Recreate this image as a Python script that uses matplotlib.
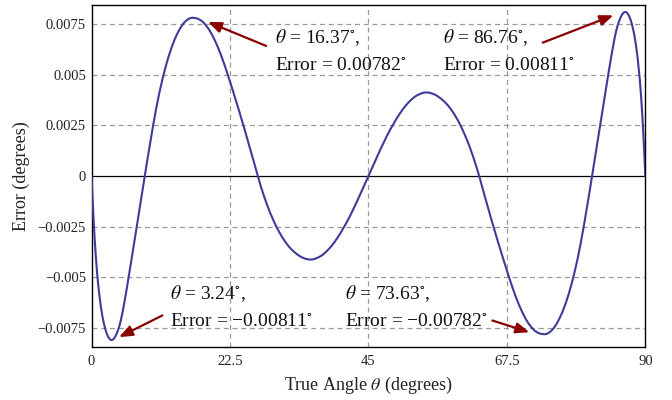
import matplotlib
matplotlib.use("Agg")
import matplotlib.pyplot as plt

plt.rcParams['font.family'] = ['Liberation Serif', 'DejaVu Serif']
plt.rcParams['mathtext.fontset'] = 'stix'

# True angle (degrees) and error (degrees)
theta = [0.0, 0.1, 0.2, 0.3, 0.4, 0.5, 0.6, 0.7, 0.8, 0.9, 1.0, 1.25, 1.5, 1.75, 2.0,
         2.25, 2.5, 2.75, 3.0, 3.24, 3.5, 3.75, 4.0, 4.25, 4.5, 4.75, 5.0, 5.25, 5.5,
         5.75, 6.0, 6.25, 6.5, 6.75, 7.0, 7.25, 7.5, 7.75, 8.0, 8.25, 8.5, 8.65, 9.0,
         9.5, 10.0, 10.5, 11.0, 11.5, 12.0, 12.5, 13.0, 13.5, 14.0, 14.5, 15.0, 15.5,
         16.0, 16.37, 17.0, 17.5, 18.0, 18.5, 19.0, 19.5, 20.0, 20.5, 21.0, 21.5, 22.0,
         22.5, 23.0, 23.5, 24.0, 24.5, 25.0, 25.5, 26.0, 26.5, 27.0, 27.5, 28.0, 28.5,
         29.0, 29.5, 30.0, 30.5, 31.0, 31.5, 32.0, 32.5, 33.0, 33.5, 34.0, 34.5, 35.0,
         35.5, 36.0, 36.5, 37.0, 37.5, 38.0, 38.5, 39.0, 39.5, 40.0, 40.5, 41.0, 41.5,
         42.0, 42.5, 43.0, 43.5, 44.0, 44.5, 45.0,
         45.5, 46.0, 46.5, 47.0, 47.5, 48.0, 48.5, 49.0, 49.5, 50.0, 50.5, 51.0, 51.5,
         52.0, 52.5, 53.0, 53.5, 54.0, 54.5, 55.0, 55.5, 56.0, 56.5, 57.0, 57.5, 58.0,
         58.5, 59.0, 59.5, 60.0, 60.5, 61.0, 61.5, 62.0, 62.5, 63.0, 63.5, 64.0, 64.5,
         65.0, 65.5, 66.0, 66.5, 67.0, 67.5, 68.0, 68.5, 69.0, 69.5, 70.0, 70.5, 71.0,
         71.5, 72.0, 72.5, 73.0, 73.63, 74.0, 74.5, 75.0, 75.5, 76.0, 76.5, 77.0, 77.5,
         78.0, 78.5, 79.0, 79.5, 80.0, 80.5, 81.0, 81.35, 81.5, 81.75, 82.0, 82.25, 82.5,
         82.75, 83.0, 83.25, 83.5, 83.75, 84.0, 84.25, 84.5, 84.75, 85.0, 85.25, 85.5,
         85.75, 86.0, 86.25, 86.5, 86.76, 87.0, 87.25, 87.5, 87.75, 88.0, 88.25, 88.5,
         88.75, 89.0, 89.1, 89.2, 89.3, 89.4, 89.5, 89.6, 89.7, 89.8, 89.9, 90.0]
error = [0.0, -0.00068, -0.00133, -0.00195, -0.00252, -0.00305, -0.00354, -0.00399,
         -0.00440, -0.00477, -0.00511, -0.00583, -0.00642, -0.00690, -0.00728, -0.00758,
         -0.00781, -0.00797, -0.00807, -0.00811, -0.00808, -0.00799, -0.00785, -0.00766,
         -0.00744, -0.00715, -0.00680, -0.00640, -0.00597, -0.00552, -0.00506, -0.00459,
         -0.00412, -0.00364, -0.00316, -0.00268, -0.00220, -0.00172, -0.00124, -0.00076,
         -0.00028, 0.0, 0.00066, 0.00158, 0.00248, 0.00332, 0.00408, 0.00475, 0.00535,
         0.00588, 0.00634, 0.00674, 0.00707, 0.00735, 0.00756, 0.00771, 0.00780, 0.00782,
         0.00780, 0.00774, 0.00764, 0.00748, 0.00728, 0.00703, 0.00673, 0.00639, 0.00601,
         0.00559, 0.00514, 0.00467, 0.00419, 0.00370, 0.00320, 0.00269, 0.00217, 0.00164,
         0.00110, 0.00056, 0.0, -0.00050, -0.00097, -0.00140, -0.00180, -0.00215,
         -0.00248, -0.00277, -0.00303, -0.00326, -0.00346, -0.00363, -0.00377, -0.00389,
         -0.00399, -0.00406, -0.00411, -0.00413, -0.00412, -0.00407, -0.00400, -0.00391,
         -0.00378, -0.00363, -0.00346, -0.00326, -0.00304, -0.00280, -0.00254, -0.00227,
         -0.00198, -0.00167, -0.00135, -0.00102, -0.00068, -0.00034, 0.0,
         0.00034, 0.00068, 0.00102, 0.00135, 0.00167, 0.00198, 0.00227, 0.00254, 0.00280,
         0.00304, 0.00326, 0.00346, 0.00363, 0.00378, 0.00391, 0.00400, 0.00407, 0.00412,
         0.00413, 0.00411, 0.00406, 0.00399, 0.00389, 0.00377, 0.00363, 0.00346, 0.00326,
         0.00303, 0.00277, 0.00248, 0.00215, 0.00180, 0.00140, 0.00097, 0.00050, 0.0,
         -0.00056, -0.00110, -0.00164, -0.00217, -0.00269, -0.00320, -0.00370, -0.00419,
         -0.00467, -0.00514, -0.00559, -0.00601, -0.00639, -0.00673, -0.00703, -0.00728,
         -0.00748, -0.00764, -0.00774, -0.00780, -0.00782, -0.00780, -0.00771, -0.00756,
         -0.00735, -0.00707, -0.00674, -0.00634, -0.00588, -0.00535, -0.00475, -0.00408,
         -0.00332, -0.00248, -0.00158, -0.00066, 0.0, 0.00028, 0.00076, 0.00124, 0.00172,
         0.00220, 0.00268, 0.00316, 0.00364, 0.00412, 0.00459, 0.00506, 0.00552, 0.00597,
         0.00640, 0.00680, 0.00715, 0.00744, 0.00766, 0.00785, 0.00799, 0.00808, 0.00811,
         0.00807, 0.00797, 0.00781, 0.00758, 0.00728, 0.00690, 0.00642, 0.00583, 0.00511,
         0.00477, 0.00440, 0.00399, 0.00354, 0.00305, 0.00252, 0.00195, 0.00133, 0.00068,
         0.0]

xticks = [0, 22.5, 45, 67.5, 90]
xticklabels = ['0', '22.5', '45', '67.5', '90']
yticks = [-0.0075, -0.005, -0.0025, 0, 0.0025, 0.005, 0.0075]
yticklabels = ['\u22120.0075', '\u22120.005', '\u22120.0025', '0', '0.0025', '0.005', '0.0075']

ann_line1 = [r'$\theta$ = 16.37$^{\circ}$,', r'$\theta$ = 86.76$^{\circ}$,',
             r'$\theta$ = 3.24$^{\circ}$,', r'$\theta$ = 73.63$^{\circ}$,']
ann_line2 = [r'Error = 0.00782$^{\circ}$', r'Error = 0.00811$^{\circ}$',
             'Error = \u22120.00811$^{\\circ}$', 'Error = \u22120.00782$^{\\circ}$']

fig = plt.figure(figsize=(6.72, 4.0), dpi=100)
ax = fig.add_axes([0.1362, 0.1325, 0.8241, 0.855])

ax.plot(theta, error, color='#3d3d99', lw=1.5, zorder=3, solid_joinstyle='round')
ax.axhline(0, color='black', lw=0.9, zorder=2)

ax.set_xlim(0, 90)
ax.set_ylim(-0.00845, 0.00845)
ax.set_xticks(xticks)
ax.set_xticklabels(xticklabels)
ax.set_yticks(yticks)
ax.set_yticklabels(yticklabels)
ax.tick_params(length=0, labelsize=10.5, colors='#222222')
ax.tick_params(axis='x', pad=6)
ax.tick_params(axis='y', pad=4)

for v in [22.5, 45, 67.5]:
    ax.axvline(v, color='#9a9a9a', lw=0.9, ls=(0, (4, 3)), zorder=1)
for v in [-0.0075, -0.005, -0.0025, 0.0025, 0.005, 0.0075]:
    ax.axhline(v, color='#9a9a9a', lw=0.9, ls=(0, (4, 3)), zorder=1)

for s in ax.spines.values():
    s.set_color('black')
    s.set_linewidth(1.0)

fig.text(368.4 / 672, 1 - 385 / 400, r'True Angle $\theta$ (degrees)', ha='center', va='center',
         fontsize=13, color='#222222')
fig.text(21 / 672, 1 - 176 / 400, 'Error (degrees)', ha='center', va='center', rotation=90,
         fontsize=13, color='#222222')

text_x = [29.82, 57.13, 12.76, 41.20]
base1 = [0.00658, 0.00658, -0.00610, -0.00610]
base2 = [0.00525, 0.00525, -0.00741, -0.00741]
tails = [(28.36, 0.00643), (73.33, 0.00659), (11.51, -0.00689), (65.14, -0.00714)]
heads = [(18.93, 0.00761), (84.80, 0.00794), (4.47, -0.00796), (71.15, -0.00772)]

for i in range(4):
    ax.text(text_x[i], base1[i], ann_line1[i], fontsize=14, va='baseline', ha='left',
            color='#111111', zorder=5)
    ax.text(text_x[i], base2[i], ann_line2[i], fontsize=14, va='baseline', ha='left',
            color='#111111', zorder=5)
    ax.annotate('', xy=heads[i], xytext=tails[i],
                arrowprops=dict(arrowstyle='-|>,head_length=0.8,head_width=0.32',
                                color='#8b0000', lw=1.6, shrinkA=0, shrinkB=0),
                zorder=6)

fig.savefig('out.png', dpi=100)
